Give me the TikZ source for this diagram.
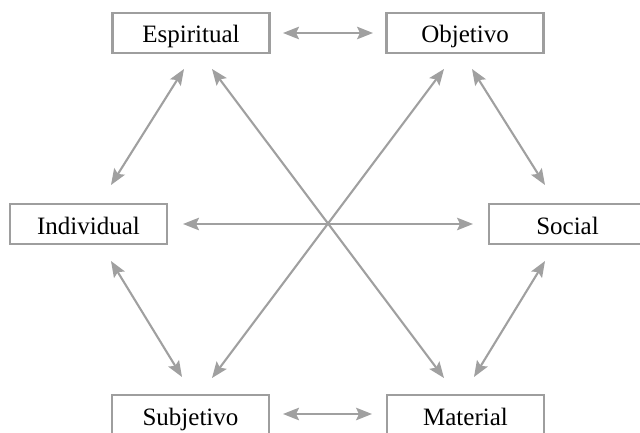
\documentclass[tikz,border=0pt]{standalone}
\usepackage{fontspec}
\setmainfont{Liberation Serif}
\usetikzlibrary{arrows.meta}
\definecolor{framegray}{RGB}{158,158,158}
\definecolor{arrowgray}{RGB}{160,160,160}
\begin{document}
\begin{tikzpicture}[x=1pt,y=-1pt,
  term/.style={draw=framegray, line width=2.2pt, fill=white, inner sep=0pt,
    minimum width=157pt, minimum height=40pt,
    text height=24pt, text depth=4pt,
    font=\fontsize{25}{29}\selectfont},
  link/.style={draw=arrowgray, line width=2.1pt,
    {Stealth[length=16pt,width=12.5pt,inset=3pt]}-{Stealth[length=16pt,width=12.5pt,inset=3pt]}}
]
\useasboundingbox (0,0) rectangle (640,433);
\clip (0,0) rectangle (640,433);

% the six terms
\node[term] (esp) at (191,33)    {Espiritual};
\node[term] (obj) at (465,33)    {Objetivo};
\node[term] (ind) at (88.5,224)  {Individual};
\node[term] (soc) at (567.5,224) {Social};
\node[term] (sub) at (190.5,415) {Subjetivo};
\node[term] (mat) at (465.5,415) {Material};

% arrow end points
\coordinate (eo1) at (283,33);   \coordinate (eo2) at (373,33);
\coordinate (sm1) at (283,414);  \coordinate (sm2) at (372,414);
\coordinate (is1) at (183,224);  \coordinate (is2) at (473,224);
\coordinate (ei1) at (184,69);   \coordinate (ei2) at (111,185);
\coordinate (os1) at (472,69);   \coordinate (os2) at (545,185);
\coordinate (iu1) at (111,261);  \coordinate (iu2) at (182,377);
\coordinate (sa1) at (545,261);  \coordinate (sa2) at (474,377);
\coordinate (em1) at (212,69);   \coordinate (em2) at (444,378);
\coordinate (ob1) at (444,69);   \coordinate (ob2) at (212,378);

% connectors
\draw[link] (eo1) -- (eo2);
\draw[link] (sm1) -- (sm2);
\draw[link] (is1) -- (is2);
\draw[link] (ei1) -- (ei2);
\draw[link] (os1) -- (os2);
\draw[link] (iu1) -- (iu2);
\draw[link] (sa1) -- (sa2);
\draw[link] (em1) -- (em2);
\draw[link] (ob1) -- (ob2);
\end{tikzpicture}
\end{document}
